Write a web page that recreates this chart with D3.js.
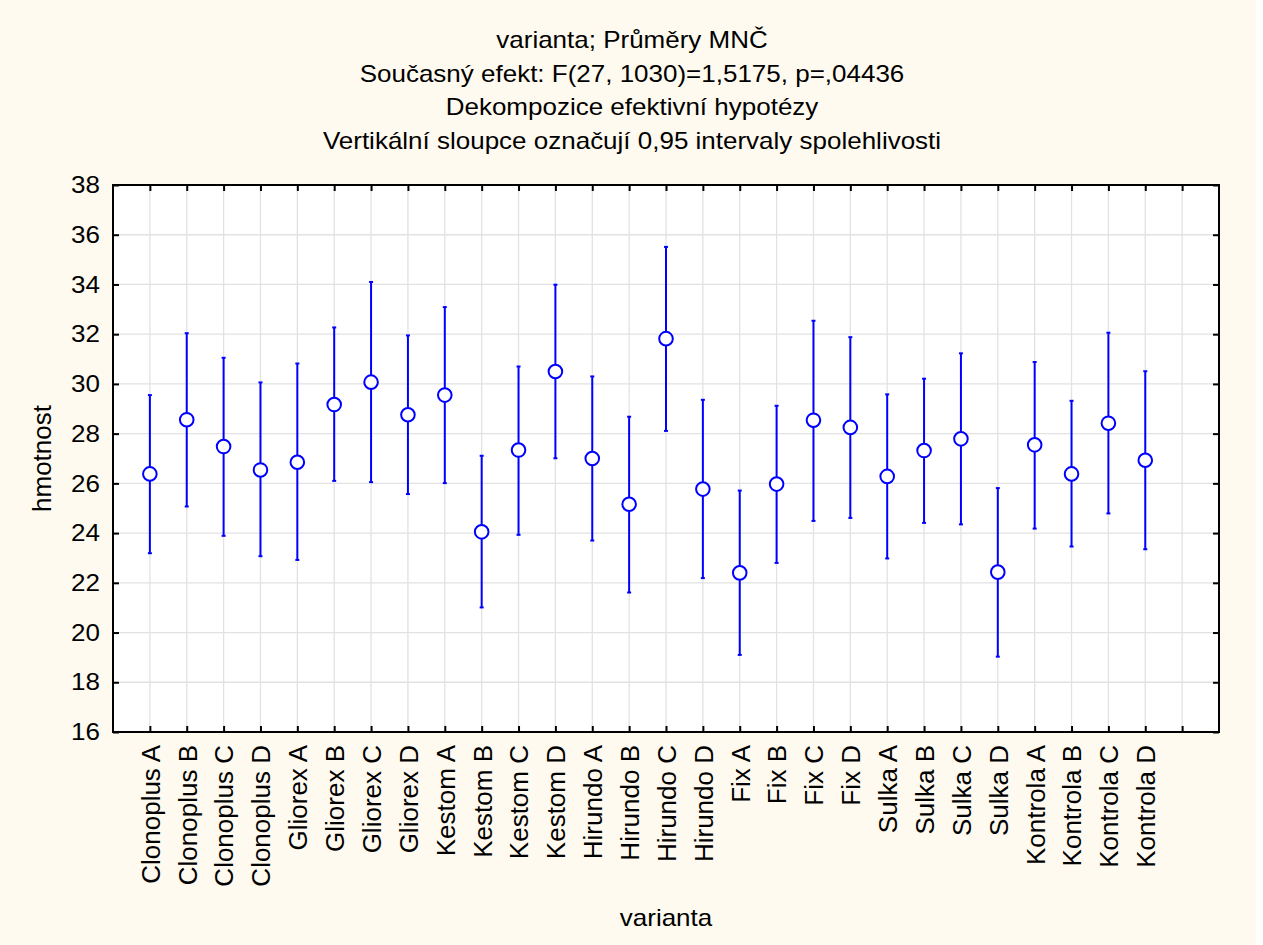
<!DOCTYPE html>
<html>
<head>
<meta charset="utf-8">
<script src="https://cdn.jsdelivr.net/npm/d3@7"></script>
<style>
  html, body { margin: 0; padding: 0; background: #fff; }
  svg { display: block; font-family: "Liberation Sans", Arial, sans-serif; }
</style>
</head>
<body>
<svg width="1263" height="945"></svg>
<script>
// data
var categories = ["Clonoplus A", "Clonoplus B", "Clonoplus C", "Clonoplus D",
    "Gliorex A", "Gliorex B", "Gliorex C", "Gliorex D",
    "Kestom A", "Kestom B", "Kestom C", "Kestom D",
    "Hirundo A", "Hirundo B", "Hirundo C", "Hirundo D",
    "Fix A", "Fix B", "Fix C", "Fix D",
    "Sulka A", "Sulka B", "Sulka C", "Sulka D",
    "Kontrola A", "Kontrola B", "Kontrola C", "Kontrola D"];
var means = [26.38, 28.56, 27.48, 26.54, 26.85, 29.17, 30.07, 28.76, 29.55, 24.05, 27.34, 30.50, 27.00, 25.16,
    31.82, 25.77, 22.40, 25.97, 28.54, 28.25, 26.28, 27.32, 27.79, 22.43, 27.55, 26.38, 28.42, 26.93];
var upper = [29.55, 32.04, 31.05, 30.06, 30.82, 32.27, 34.10, 31.95, 33.09, 27.11, 30.70, 33.99, 30.30, 28.68,
    35.51, 29.36, 25.71, 29.12, 32.54, 31.88, 29.58, 30.21, 31.23, 25.81, 30.88, 29.32, 32.06, 30.51];
var lower = [23.19, 25.07, 23.89, 23.07, 22.92, 26.10, 26.05, 25.57, 26.01, 21.01, 23.93, 27.01, 23.70, 21.61,
    28.11, 22.19, 19.10, 22.80, 24.49, 24.61, 22.98, 24.41, 24.35, 19.03, 24.18, 23.46, 24.79, 23.35];
var yTicks = [16, 18, 20, 22, 24, 26, 28, 30, 32, 34, 36, 38];
var titleLines = ["varianta; Průměry MNČ",
    "Současný efekt: F(27, 1030)=1,5175, p=,04436",
    "Dekompozice efektivní hypotézy",
    "Vertikální sloupce označují 0,95 intervaly spolehlivosti"];

var svg = d3.select("svg");
var pLeft = 113, pRight = 1219, pTop = 185, pBottom = 732;

var x = d3.scaleLinear().domain([0, categories.length + 2]).range([pLeft, pRight]);
var y = d3.scaleLinear().domain([16, 38]).range([pBottom, pTop]);
var xTicks = d3.range(1, categories.length + 2);

// pozadí
svg.append("rect").attr("width", 1256).attr("height", 945).attr("fill", "#fffaef");
svg.append("rect").attr("x", pLeft).attr("y", pTop)
    .attr("width", pRight - pLeft).attr("height", pBottom - pTop).attr("fill", "#fff");

// mřížka
svg.append("g").selectAll("line").data(yTicks).join("line")
    .attr("x1", pLeft).attr("x2", pRight)
    .attr("y1", d => y(d)).attr("y2", d => y(d))
    .attr("stroke", "#e2e2e2").attr("stroke-width", 1.3);
svg.append("g").selectAll("line").data(xTicks).join("line")
    .attr("y1", pTop).attr("y2", pBottom)
    .attr("x1", d => x(d)).attr("x2", d => x(d))
    .attr("stroke", "#e2e2e2").attr("stroke-width", 1.3);

// osy (ticky dovnitř)
var gLeft = svg.append("g").attr("transform", "translate(" + pLeft + ",0)")
    .call(d3.axisLeft(y).tickValues(yTicks).tickSize(-6).tickPadding(13).tickFormat(d3.format("d")));
var gRight = svg.append("g").attr("transform", "translate(" + pRight + ",0)")
    .call(d3.axisRight(y).tickValues(yTicks).tickSize(-6).tickFormat(""));
var gTop = svg.append("g").attr("transform", "translate(0," + pTop + ")")
    .call(d3.axisTop(x).tickValues(xTicks).tickSize(-6).tickFormat(""));
var gBottom = svg.append("g").attr("transform", "translate(0," + pBottom + ")")
    .call(d3.axisBottom(x).tickValues(xTicks).tickSize(-6)
        .tickFormat(function(d) { return categories[d - 1] || ""; }));

[gLeft, gRight, gTop, gBottom].forEach(function(g) {
    g.select(".domain").remove();
    g.selectAll(".tick line").attr("stroke", "#000").attr("stroke-width", 2);
    g.selectAll("text").attr("font-family", "Liberation Sans, Arial, sans-serif").attr("fill", "#000");
});

gLeft.selectAll("text").attr("font-size", 26).attr("transform", "scale(1,0.92)");

gBottom.selectAll("text")
    .attr("font-size", 26)
    .attr("text-anchor", "end")
    .attr("transform", "rotate(-90)")
    .attr("x", -13).attr("y", 0).attr("dy", "0.36em");

// rámeček
svg.append("rect").attr("x", pLeft).attr("y", pTop)
    .attr("width", pRight - pLeft).attr("height", pBottom - pTop)
    .attr("fill", "none").attr("stroke", "#000").attr("stroke-width", 2);

// intervaly spolehlivosti
var idx = d3.range(categories.length);
var bars = svg.append("g").attr("stroke", "#0000ff").attr("stroke-width", 2);
bars.selectAll("line.ci").data(idx).join("line").attr("class", "ci")
    .attr("x1", i => x(i + 1)).attr("x2", i => x(i + 1))
    .attr("y1", i => y(lower[i])).attr("y2", i => y(upper[i]));
bars.selectAll("line.capU").data(idx).join("line").attr("class", "capU")
    .attr("x1", i => x(i + 1) - 2).attr("x2", i => x(i + 1) + 2)
    .attr("y1", i => y(upper[i])).attr("y2", i => y(upper[i]));
bars.selectAll("line.capL").data(idx).join("line").attr("class", "capL")
    .attr("x1", i => x(i + 1) - 2).attr("x2", i => x(i + 1) + 2)
    .attr("y1", i => y(lower[i])).attr("y2", i => y(lower[i]));

// průměry
svg.append("g").selectAll("circle").data(idx).join("circle")
    .attr("cx", i => x(i + 1)).attr("cy", i => y(means[i]))
    .attr("r", 6.8)
    .attr("fill", "#fff").attr("stroke", "#0000ff").attr("stroke-width", 2);

// nadpis
var title = svg.append("g").attr("font-size", 26).attr("text-anchor", "middle");
titleLines.forEach(function(t, i) {
    title.append("text")
        .attr("transform", "translate(632," + (48 + i * 33.5) + ") scale(1,0.9)")
        .text(t);
});

// popisky os
svg.append("text").attr("font-size", 26).attr("text-anchor", "middle")
    .attr("transform", "translate(" + ((pLeft + pRight) / 2) + ",926) scale(1,0.9)")
    .text("varianta");
svg.append("text").attr("font-size", 26).attr("text-anchor", "middle")
    .attr("transform", "translate(51," + ((pTop + pBottom) / 2) + ") rotate(-90)")
    .text("hmotnost");
</script>
</body>
</html>
